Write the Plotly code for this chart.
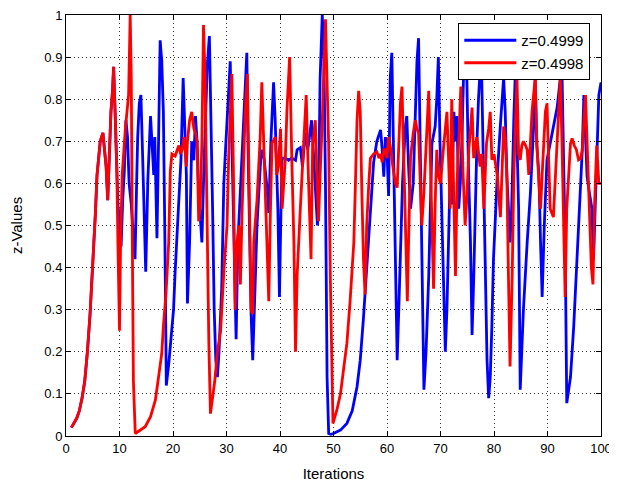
import plotly.graph_objects as go

# Red series z=0.4998 (x, y)
red_x = [1.0, 1.5, 2.0, 2.5, 3.0, 3.5, 4.0, 4.5, 5.0, 5.5, 5.8, 6.1, 6.4, 6.9, 7.2, 7.5, 7.8, 8.15, 8.4, 8.7,
         8.9, 9.2, 9.5, 9.7, 10.0, 10.2, 10.5, 11.1, 11.4, 11.7, 12.0, 12.2, 12.4, 12.6, 12.95, 13.9, 14.8, 15.8, 16.7, 17.3,
         17.9, 18.2, 18.7, 19.2, 19.5, 19.8, 20.4, 20.8, 21.1, 21.4, 21.7, 22.1, 22.5, 22.7, 23.1, 23.5, 23.9, 24.2, 24.5, 24.8,
         25.1, 25.4, 25.7, 26.0, 26.4, 26.7, 27.0, 27.3, 27.8, 28.3, 28.9, 29.5, 29.8, 30.1, 30.4, 30.7, 31.0, 31.3, 31.6, 31.9,
         32.3, 32.6, 32.9, 33.5, 33.9, 34.2, 34.6, 34.9, 35.1, 35.7, 36.3, 36.6, 37.0, 37.6, 37.9, 38.2, 38.5, 39.1, 39.4, 39.7,
         40.1, 40.4, 41.0, 41.3, 41.8, 42.2, 42.6, 42.9, 43.2, 43.8, 44.4, 44.9, 45.3, 45.8, 46.1, 46.6, 46.9, 47.2, 47.5, 47.9,
         48.5, 48.8, 49.1, 49.4, 49.9, 50.6, 51.3, 51.9, 52.5, 53.1, 53.8, 54.1, 54.4, 54.7, 55.0, 55.3, 55.6, 55.9, 56.2, 56.6,
         56.9, 57.5, 58.1, 58.5, 58.8, 59.1, 59.4, 59.7, 60.0, 60.3, 60.6, 61.2, 61.6, 61.9, 62.2, 62.5, 62.8, 63.1, 63.4, 63.8,
         64.1, 64.4, 64.9, 65.3, 65.6, 65.9, 66.2, 66.5, 66.9, 67.5, 67.8, 68.1, 68.4, 68.7, 69.0, 69.3, 69.6, 70.0, 70.6, 71.2,
         71.5, 71.8, 72.1, 72.4, 72.8, 73.1, 73.4, 73.8, 74.2, 74.6, 74.9, 75.3, 75.9, 76.2, 76.8, 77.4, 77.7, 78.1, 78.6, 79.0,
         79.3, 79.6, 80.0, 80.6, 81.2, 81.8, 82.1, 82.4, 82.7, 83.0, 83.4, 83.7, 84.0, 84.3, 84.6, 84.9, 85.2, 85.5, 85.9, 86.2,
         86.5, 87.1, 87.7, 88.0, 88.4, 88.7, 89.0, 89.3, 89.6, 89.9, 90.2, 90.5, 91.1, 91.8, 92.4, 92.7, 93.0, 93.3, 93.6, 94.0,
         94.3, 94.6, 95.0, 95.4, 95.8, 96.2, 96.5, 97.1, 97.4, 97.8, 98.2, 98.5, 98.8, 99.2, 99.6, 100.0]
red_y = [0.02, 0.03, 0.042, 0.06, 0.09, 0.13, 0.2, 0.29, 0.4, 0.53, 0.62, 0.67, 0.70, 0.72, 0.68, 0.64, 0.56, 0.68, 0.77, 0.82,
         0.877, 0.76, 0.63, 0.46, 0.25, 0.46, 0.62, 0.73, 0.77, 0.81, 1.0, 0.85, 0.46, 0.13, 0.006, 0.014, 0.022, 0.046, 0.085, 0.14,
         0.196, 0.26, 0.34, 0.46, 0.63, 0.67, 0.665, 0.68, 0.69, 0.67, 0.68, 0.71, 0.64, 0.70, 0.75, 0.77, 0.73, 0.72, 0.70, 0.51,
         0.55, 0.70, 0.976, 0.85, 0.46, 0.22, 0.053, 0.08, 0.13, 0.2, 0.25, 0.39, 0.44, 0.5, 0.66, 0.79, 0.86, 0.62, 0.30, 0.45,
         0.5, 0.36, 0.53, 0.77, 0.86, 0.62, 0.30, 0.29, 0.46, 0.56, 0.71, 0.84, 0.69, 0.46, 0.32, 0.53, 0.695, 0.71, 0.62, 0.64,
         0.73, 0.54, 0.66, 0.775, 0.90, 0.66, 0.46, 0.20, 0.38, 0.54, 0.695, 0.81, 0.62, 0.42, 0.69, 0.75, 0.62, 0.51, 0.62, 0.75,
         0.99, 0.8, 0.69, 0.38, 0.03, 0.06, 0.1, 0.16, 0.22, 0.32, 0.46, 0.6, 0.75, 0.82, 0.77, 0.58, 0.42, 0.336, 0.5, 0.6,
         0.66, 0.67, 0.675, 0.66, 0.67, 0.65, 0.68, 0.68, 0.66, 0.71, 0.69, 0.63, 0.6, 0.59, 0.7, 0.79, 0.83, 0.67, 0.5, 0.32,
         0.5, 0.66, 0.72, 0.75, 0.73, 0.72, 0.61, 0.5, 0.58, 0.76, 0.82, 0.66, 0.5, 0.35, 0.55, 0.68, 0.62, 0.6, 0.69, 0.77,
         0.66, 0.54, 0.8, 0.62, 0.38, 0.6, 0.72, 0.83, 0.63, 0.5, 0.56, 0.68, 0.78, 0.66, 0.71, 0.64, 0.67, 0.54, 0.695, 0.73,
         0.77, 0.656, 0.67, 0.62, 0.52, 0.735, 0.71, 0.62, 0.38, 0.165, 0.38, 0.616, 0.74, 0.85, 0.67, 0.656, 0.69, 0.70, 0.69, 0.68,
         0.62, 0.77, 0.85, 0.70, 0.6, 0.54, 0.62, 0.695, 0.77, 0.79, 0.66, 0.54, 0.52, 0.695, 0.85, 0.7, 0.5, 0.33, 0.54, 0.65,
         0.695, 0.707, 0.69, 0.68, 0.656, 0.66, 0.68, 0.81, 0.69, 0.54, 0.4, 0.36, 0.55, 0.69, 0.6, 0.6]

# Blue series z=0.4999
blue_x = [1.0, 1.5, 2.0, 2.5, 3.0, 3.5, 4.0, 4.5, 5.0, 5.5, 5.8, 6.1, 6.4, 6.9, 7.2, 7.5, 7.8, 8.15, 8.4, 8.7,
          8.9, 9.2, 9.5, 9.7, 10.0, 10.3, 10.6, 10.9, 11.2, 11.5, 11.8, 12.2, 12.5, 12.9, 13.2, 13.4, 13.7, 14.0, 14.3, 14.6,
          14.9, 15.3, 15.8, 16.1, 16.4, 16.6, 17.0, 17.3, 17.6, 17.9, 18.2, 18.5, 18.75, 19.2, 19.5, 20.1, 20.4, 20.7, 21.1, 21.5,
          21.9, 22.1, 22.5, 22.7, 23.1, 23.5, 23.9, 24.2, 24.5, 24.8, 25.1, 25.4, 25.7, 26.0, 26.4, 26.8, 27.1, 27.4, 27.7, 28.0,
          28.3, 28.6, 29.1, 29.5, 29.9, 30.3, 30.7, 31.0, 31.3, 31.6, 31.8, 32.1, 32.6, 33.1, 33.5, 33.8, 34.0, 34.3, 34.6, 34.9,
          35.3, 35.7, 36.0, 36.5, 37.0, 37.5, 37.9, 38.3, 38.8, 39.1, 39.6, 39.9, 40.2, 40.4, 41.0, 41.6, 42.2, 42.9, 43.2, 43.8,
          44.2, 44.7, 45.2, 45.9, 46.3, 47.0, 47.2, 47.5, 47.9, 48.2, 48.5, 48.8, 49.1, 49.5, 50.0, 51.3, 52.5, 53.5, 54.4, 55.0,
          55.6, 56.3, 56.9, 57.5, 58.1, 58.8, 59.1, 59.4, 59.7, 60.0, 60.3, 60.6, 60.9, 61.2, 61.5, 61.9, 62.2, 62.5, 62.9, 63.4,
          63.7, 64.0, 64.4, 64.9, 65.3, 65.6, 65.9, 66.2, 66.5, 66.9, 67.3, 67.8, 68.4, 69.0, 69.3, 69.6, 69.9, 70.4, 70.9, 71.2,
          71.5, 71.8, 72.1, 72.5, 72.8, 73.1, 73.4, 73.7, 74.0, 74.3, 74.9, 75.2, 75.6, 75.9, 76.2, 76.5, 76.8, 77.1, 77.4, 77.7,
          78.0, 78.4, 78.7, 79.0, 79.3, 79.6, 79.9, 80.3, 80.6, 81.2, 81.8, 82.1, 82.4, 83.0, 83.3, 83.7, 84.0, 84.3, 84.6, 84.9,
          85.2, 85.5, 86.2, 86.8, 87.4, 87.7, 88.0, 88.4, 88.7, 89.0, 89.4, 89.9, 90.5, 91.2, 91.8, 92.4, 92.7, 93.0, 93.3, 93.6,
          94.3, 94.9, 95.5, 96.1, 96.5, 96.8, 97.1, 97.4, 97.8, 98.3, 98.6, 98.9, 99.2, 99.6, 100.0]
blue_y = [0.02, 0.03, 0.042, 0.06, 0.09, 0.13, 0.2, 0.29, 0.4, 0.53, 0.62, 0.67, 0.70, 0.72, 0.68, 0.64, 0.56, 0.68, 0.77, 0.82,
          0.877, 0.76, 0.63, 0.55, 0.51, 0.45, 0.56, 0.63, 0.75, 0.71, 0.6, 0.55, 0.49, 0.42, 0.6, 0.71, 0.79, 0.81, 0.675, 0.53,
          0.39, 0.61, 0.76, 0.69, 0.62, 0.71, 0.47, 0.7, 0.94, 0.89, 0.77, 0.45, 0.12, 0.17, 0.21, 0.3, 0.39, 0.47, 0.58, 0.66,
          0.85, 0.77, 0.62, 0.315, 0.46, 0.70, 0.655, 0.76, 0.7, 0.58, 0.52, 0.46, 0.6, 0.73, 0.88, 0.95, 0.77, 0.54, 0.3, 0.18,
          0.14, 0.2, 0.35, 0.6, 0.7, 0.8, 0.89, 0.7, 0.5, 0.34, 0.23, 0.45, 0.58, 0.7, 0.8, 0.91, 0.7, 0.48, 0.29, 0.18,
          0.35, 0.5, 0.57, 0.68, 0.66, 0.6, 0.53, 0.7, 0.84, 0.75, 0.54, 0.33, 0.55, 0.66, 0.66, 0.655, 0.66, 0.655, 0.68, 0.685,
          0.64, 0.72, 0.68, 0.75, 0.66, 0.5, 0.56, 0.85, 1.0, 0.9, 0.6, 0.14, 0.006, 0.004, 0.006, 0.014, 0.03, 0.06, 0.117, 0.18,
          0.28, 0.41, 0.537, 0.65, 0.70, 0.727, 0.68, 0.616, 0.71, 0.68, 0.57, 0.85, 0.91, 0.7, 0.5, 0.18, 0.3, 0.42, 0.6, 0.73,
          0.76, 0.65, 0.54, 0.6, 0.75, 0.89, 0.945, 0.7, 0.42, 0.11, 0.2, 0.38, 0.695, 0.735, 0.8, 0.9, 0.7, 0.46, 0.2, 0.3,
          0.46, 0.62, 0.55, 0.77, 0.7, 0.76, 0.54, 0.6, 0.7, 0.85, 0.87, 0.65, 0.46, 0.24, 0.37, 0.55, 0.695, 0.8, 0.87, 0.855,
          0.66, 0.38, 0.18, 0.09, 0.14, 0.26, 0.42, 0.53, 0.616, 0.74, 0.85, 0.77, 0.62, 0.46, 0.54, 0.75, 0.87, 0.7, 0.54, 0.11,
          0.2, 0.3, 0.46, 0.576, 0.735, 0.85, 0.69, 0.62, 0.46, 0.33, 0.5, 0.656, 0.695, 0.74, 0.78, 0.85, 0.87, 0.66, 0.46, 0.078,
          0.14, 0.26, 0.42, 0.576, 0.68, 0.81, 0.72, 0.616, 0.58, 0.54, 0.42, 0.55, 0.695, 0.81, 0.84]

x_ticks = [0, 10, 20, 30, 40, 50, 60, 70, 80, 90, 100]
y_ticks = [0, 0.1, 0.2, 0.3, 0.4, 0.5, 0.6, 0.7, 0.8, 0.9, 1]
y_tick_labels = ["0", "0.1", "0.2", "0.3", "0.4", "0.5", "0.6", "0.7", "0.8", "0.9", "1"]

font_family = "Liberation Sans, Arial, sans-serif"

fig = go.Figure()
fig.add_trace(go.Scatter(x=blue_x, y=blue_y, mode="lines", name="z=0.4999",
                         line=dict(color="#0000FF", width=2.8)))
fig.add_trace(go.Scatter(x=red_x, y=red_y, mode="lines", name="z=0.4998",
                         line=dict(color="#FF0000", width=2.8)))

axis_common = dict(showline=True, linecolor="black", linewidth=1, mirror="ticks",
                   ticks="inside", ticklen=5, tickcolor="black",
                   showgrid=True, gridcolor="#333333", griddash="1px,3px", gridwidth=1,
                   zeroline=False, automargin=False, ticklabeloverflow="allow",
                   tickfont=dict(family=font_family, size=13, color="black"))

fig.update_layout(
    width=609, height=477,
    margin=dict(l=58, r=16, t=7, b=49),
    paper_bgcolor="white", plot_bgcolor="white",
    font=dict(family=font_family, color="black"),
    xaxis=dict(range=[0, 100], tickvals=x_ticks,
               title=dict(text="Iterations", font=dict(size=15), standoff=13), **axis_common),
    yaxis=dict(range=[0, 1], tickvals=y_ticks, ticktext=y_tick_labels,
               title=dict(text="z-Values", font=dict(size=15), standoff=26), **axis_common),
    legend=dict(x=0.98, y=0.981, xanchor="right", yanchor="top",
                bgcolor="white", bordercolor="black", borderwidth=1,
                font=dict(family=font_family, size=15), itemwidth=52,
                tracegroupgap=0),
    showlegend=True,
)

fig.write_html("out.html")
